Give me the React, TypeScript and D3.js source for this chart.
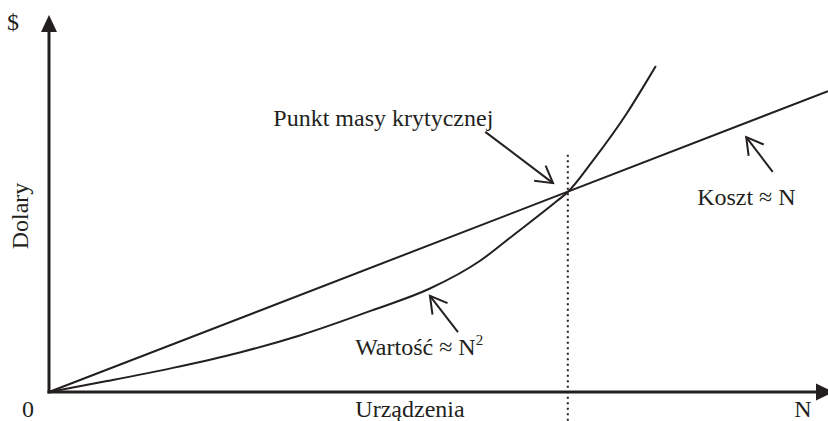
// Critical mass chart: cost grows linearly with N, value grows like N^2,
// and the two cross at the critical mass point.
import React from 'react';
import * as d3 from 'd3';

const W = 828;
const H = 421;
const INK = '#231f20';
const FONT = '"Liberation Serif", "Times New Roman", serif';

// cost line (N, dollars)
const costN = [0, 100];
const costVal = [0, 79.8];

// value curve (N, dollars)
const valueN = [0, 7.45, 15.9, 24.5, 32.2, 41.6, 48.9, 55.3, 59.6, 65.2, 66.6, 69.8, 74.2, 76.25, 77.9];
const valueVal = [0, 2.9, 6.4, 10.5, 15.0, 21.75, 27.45, 34.75, 41.6, 50.65, 53.05, 61.3, 74.0, 80.8, 86.5];

// critical mass point and the top of its dotted marker
const criticalN = 66.6;
const markerTop = 62.9;

// annotation arrows: [tailN, tailVal, tipN, tipVal]
const arrowNames = ['punkt', 'koszt', 'wartosc'];
const arrowCoords = [
  [56.0, 69.0, 64.7, 55.4],
  [92.9, 58.4, 89.5, 67.6],
  [52.5, 15.9, 48.9, 25.5],
];

// annotation labels: text and where they start
const labelTexts = ['Punkt masy krytycznej', 'Koszt \u2248 N', 'Warto\u015b\u0107 \u2248 N'];
const labelPos = [
  [28.8, 70.6],
  [83.2, 49.6],
  [39.3, 9.8],
];

export default function App() {
  const x = d3.scaleLinear().domain([0, 100]).range([49, 828]);
  const y = d3.scaleLinear().domain([0, 100]).range([392, 15]);

  const straight = d3.line<number>().x((d, i) => x(costN[i])).y(d => y(d));
  const curved = d3.line<number>()
    .x((d, i) => x(valueN[i]))
    .y(d => y(d))
    .curve(d3.curveMonotoneX);

  const x0 = x(0), y0 = y(0);
  const yTop = y(100);
  const xEnd = x(100);

  function arrowHead(tx, ty, sx, sy) {
    const ang = Math.atan2(sy - ty, sx - tx);
    const len = 19, spread = Math.PI / 6;
    const a1 = [tx + len * Math.cos(ang - spread), ty + len * Math.sin(ang - spread)];
    const a2 = [tx + len * Math.cos(ang + spread), ty + len * Math.sin(ang + spread)];
    return `M${a1[0]},${a1[1]}L${tx},${ty}L${a2[0]},${a2[1]}`;
  }

  return (
    <svg width={W} height={H} style={{ position: 'absolute', left: 0, top: 0, background: '#fff' }}
      fontFamily={FONT} fontSize={24} fill={INK}>
      {/* axes */}
      <line x1={x0} y1={y0 + 1.5} x2={x0} y2={yTop + 16} stroke={INK} strokeWidth={3} />
      <path d={`M${x0},${yTop}L${x0 - 8},${yTop + 17}L${x0 + 8},${yTop + 17}Z`} fill={INK} />
      <line x1={x0 - 1.5} y1={y0} x2={xEnd - 12} y2={y0} stroke={INK} strokeWidth={3} />
      <path d={`M${xEnd + 6},${y0}L${xEnd - 12},${y0 - 8.5}L${xEnd - 12},${y0 + 8.5}Z`} fill={INK} />

      {/* critical mass marker */}
      <line x1={x(criticalN)} y1={y(markerTop)} x2={x(criticalN)} y2={H}
        stroke={INK} strokeWidth={2} strokeDasharray="2 3.5" />

      {/* series */}
      <path d={straight(costVal) || ''} fill="none" stroke={INK} strokeWidth={2} />
      <path d={curved(valueVal) || ''} fill="none" stroke={INK} strokeWidth={2} />

      {/* annotation arrows */}
      {arrowCoords.map((c, i) => {
        const sx = x(c[0]), sy = y(c[1]), tx = x(c[2]), ty = y(c[3]);
        return (
          <g key={arrowNames[i]} fill="none" stroke={INK} strokeWidth={2}>
            <line x1={sx} y1={sy} x2={tx} y2={ty} />
            <path d={arrowHead(tx, ty, sx, sy)} />
          </g>
        );
      })}

      {/* labels */}
      {labelTexts.map((t, i) => (
        <text key={t} x={x(labelPos[i][0])} y={y(labelPos[i][1])}>
          {t}
          {i === 2 ? <tspan fontSize={15} dy={-10}>2</tspan> : null}
        </text>
      ))}

      {/* axis labels */}
      <text x={x0 - 21} y={y0 + 25} textAnchor="middle">0</text>
      <text x={xEnd - 25} y={y0 + 25} textAnchor="middle">N</text>
      <text x={410} y={y0 + 25} textAnchor="middle">Urządzenia</text>
      <text x={13} y={30} textAnchor="middle">$</text>
      <text transform="translate(28,216) rotate(-90)" textAnchor="middle">Dolary</text>
    </svg>
  );
}
